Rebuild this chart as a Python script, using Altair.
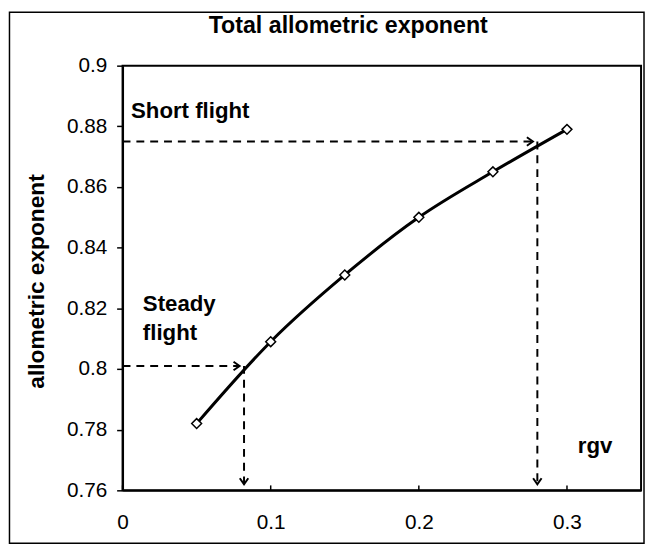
import altair as alt
import pandas as pd

# ---- data ----
rgv = [0.05, 0.10, 0.15, 0.20, 0.25, 0.30]
exponent = [0.782, 0.809, 0.831, 0.850, 0.865, 0.879]

x_ticks = [0, 0.1, 0.2, 0.3]
y_ticks = [0.76, 0.78, 0.80, 0.82, 0.84, 0.86, 0.88, 0.90]

# dashed guide lines (start -> end)
guide_x = [0.0, 0.082, 0.0, 0.280]
guide_y = [0.801, 0.801, 0.875, 0.875]
guide_x2 = [0.079, 0.082, 0.277, 0.280]
guide_y2 = [0.801, 0.762, 0.875, 0.762]

# arrow heads
arrow_x = [0.079, 0.082, 0.277, 0.280]
arrow_y = [0.801, 0.762, 0.875, 0.762]
arrow_dir = ["right", "down", "right", "down"]

# annotations
ann_text = ["Short flight", "Steady", "flight"]
ann_x = [0.0057, 0.0137, 0.0137]
ann_y = [0.8826, 0.8190, 0.8095]

FONT = "Liberation Sans"
W, H = 525, 430

xs = alt.Scale(domain=[0, 0.35], nice=False, zero=False)
ys = alt.Scale(domain=[0.76, 0.90], nice=False, zero=False)

pts = pd.DataFrame({"rgv": rgv, "exp": exponent})
guides = pd.DataFrame({"x": guide_x, "y": guide_y, "x2": guide_x2, "y2": guide_y2})
arrows = pd.DataFrame({"x": arrow_x, "y": arrow_y, "dir": arrow_dir})
ann = pd.DataFrame({"t": ann_text, "x": ann_x, "y": ann_y})
ticks = pd.DataFrame({"x": x_ticks})

frame = alt.Chart(pd.DataFrame({"a": [0]})).mark_rect(
    fillOpacity=0, stroke="black", strokeWidth=1.5
).encode(
    x=alt.value(-114.5), x2=alt.value(W + 3), y=alt.value(-54), y2=alt.value(H + 53.5)
)

guide_layer = alt.Chart(guides).mark_rule(
    color="black", strokeWidth=2, strokeDash=[8, 6]
).encode(
    x=alt.X("x:Q", scale=xs), x2="x2:Q",
    y=alt.Y("y:Q", scale=ys), y2="y2:Q",
)

line = alt.Chart(pts).mark_line(
    color="black", strokeWidth=3, interpolate="monotone"
).encode(
    x=alt.X("rgv:Q", scale=xs,
            axis=alt.Axis(values=x_ticks, format="~g", title="rgv",
                          titleX=478, titleY=-45, titleAlign="center",
                          titleBaseline="middle", titleAngle=0,
                          titleFont=FONT, titleFontSize=22.5, titleFontWeight="bold",
                          titleColor="black",
                          labelFont=FONT, labelFontSize=21, labelColor="black",
                          labelPadding=22, labelFlush=False, ticks=False,
                          domainColor="black", domainWidth=2, grid=False)),
    y=alt.Y("exp:Q", scale=ys,
            axis=alt.Axis(values=y_ticks, format="~g", title="allometric exponent",
                          titleX=-80, titleY=218, titleAngle=-90, titleAlign="center",
                          titleBaseline="alphabetic",
                          titleFont=FONT, titleFontSize=23, titleFontWeight="bold",
                          titleColor="black",
                          labelFont=FONT, labelFontSize=21, labelColor="black",
                          labelPadding=10, labelFlush=False,
                          tickSize=6, tickColor="black", tickWidth=1.5,
                          domainColor="black", domainWidth=2, grid=False)),
)

markers = alt.Chart(pts).mark_point(
    shape="diamond", size=100, filled=True, fill="white", stroke="black", strokeWidth=1.5,
    opacity=1
).encode(x=alt.X("rgv:Q", scale=xs), y=alt.Y("exp:Q", scale=ys))

arrow_layer = alt.Chart(arrows).mark_point(
    size=150, filled=False, stroke="black", strokeWidth=2, opacity=1
).encode(
    x=alt.X("x:Q", scale=xs), y=alt.Y("y:Q", scale=ys),
    shape=alt.Shape("dir:N", legend=None,
                    scale=alt.Scale(domain=["right", "down"],
                                    range=["M-1,-0.7L0,0L-1,0.7", "M-0.7,-1L0,0L0.7,-1"])),
)

text_layer = alt.Chart(ann).mark_text(
    align="left", baseline="alphabetic", font=FONT, fontSize=22.5,
    fontWeight="bold", color="black"
).encode(x=alt.X("x:Q", scale=xs), y=alt.Y("y:Q", scale=ys), text="t:N")

tick_layer = alt.Chart(ticks).mark_rule(color="black", strokeWidth=1.5).encode(
    x=alt.X("x:Q", scale=xs), y=alt.value(H), y2=alt.value(H - 5)
)

chart = alt.layer(
    frame, guide_layer, line, markers, arrow_layer, text_layer, tick_layer
).properties(
    width=W, height=H,
    autosize=alt.AutoSizeParams(type="none"),
    padding={"left": 116, "top": 55, "right": 4, "bottom": 55},
    title=alt.TitleParams(text="Total allometric exponent", font=FONT, fontSize=23.5,
                          fontWeight="bold", color="black", anchor="middle",
                          baseline="alphabetic", dx=-34, offset=-45.5),
    background="white",
).configure_view(stroke="black", strokeWidth=2)

chart.save("out.html", embed_options={"renderer": "svg", "actions": False})
